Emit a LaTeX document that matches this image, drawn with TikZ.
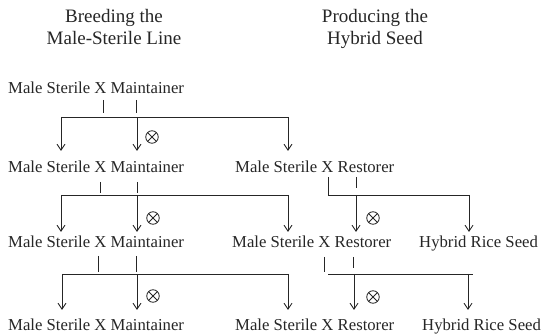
\documentclass[tikz,border=0pt]{standalone}
\usepackage{fontspec}
\setmainfont{Liberation Serif}
\usetikzlibrary{arrows.meta}
\begin{document}
\begin{tikzpicture}[x=1pt,y=-1pt,
  lbl/.style={anchor=base west,inner sep=0pt,font=\fontsize{16.7}{20}\selectfont,text=black!85},
  ttl/.style={anchor=base,inner sep=0pt,font=\fontsize{19}{22}\selectfont,text=black!85},
  ln/.style={line width=0.9pt,draw=black!85},
  arr/.style={line width=0.9pt,draw=black!85,-{Straight Barb[length=6pt,width=8pt]}},
  selfx/.style={circle,draw=black!85,line width=0.8pt,minimum size=12.5pt,inner sep=0pt,
    path picture={\draw[line width=0.8pt,black!85] (path picture bounding box.north west)--(path picture bounding box.south east)
      (path picture bounding box.north east)--(path picture bounding box.south west);}}]
\path[use as bounding box] (0,0) rectangle (542,336);
% titles
\node[ttl] (t1) at (114,23) {Breeding the};
\node[ttl] (t2) at (114,45) {Male-Sterile Line};
\node[ttl] (t3) at (375,23) {Producing the};
\node[ttl] (t4) at (375,45) {Hybrid Seed};
% row 1
\node[lbl] (m1) at (8,94) {Male Sterile X Maintainer};
% row 2
\node[lbl] (m2) at (8,173) {Male Sterile X Maintainer};
\node[lbl] (r2) at (235,173) {Male Sterile X Restorer};
% row 3
\node[lbl] (m3) at (8,248) {Male Sterile X Maintainer};
\node[lbl] (r3) at (232,248) {Male Sterile X Restorer};
\node[lbl] (h3) at (419,248) {Hybrid Rice Seed};
% row 4
\node[lbl] (m4) at (8,331) {Male Sterile X Maintainer};
\node[lbl] (r4) at (235,331) {Male Sterile X Restorer};
\node[lbl] (h4) at (422,331) {Hybrid Rice Seed};

% cross 1 (row1 -> row2)
\coordinate (a1) at (103,100); \coordinate (a1e) at (103,113);
\coordinate (b1) at (136,100); \coordinate (b1e) at (136,113);
\coordinate (l1) at (61,117); \coordinate (rr1) at (289,117);
\draw[ln] (a1) -- (a1e); \draw[ln] (b1) -- (b1e);
\draw[ln] (l1) -- (rr1);
\coordinate (p1) at (61,151); \coordinate (q1) at (137,151); \coordinate (s1) at (288,151);
\draw[arr] (l1) -- (p1);
\draw[arr] (137,117) -- (q1);
\draw[arr] (288,117) -- (s1);
\node[selfx] (x1) at (152,137) {};

% cross 2 left (row2 -> row3)
\coordinate (a2) at (100,182); \coordinate (a2e) at (100,193);
\coordinate (b2) at (137,182); \coordinate (b2e) at (137,193);
\draw[ln] (a2) -- (a2e); \draw[ln] (b2) -- (b2e);
\coordinate (l2) at (61,195); \coordinate (rr2) at (289,195);
\draw[ln] (l2) -- (rr2);
\coordinate (p2) at (61,232); \coordinate (q2) at (137,232); \coordinate (s2) at (288,232);
\draw[arr] (l2) -- (p2);
\draw[arr] (137,195) -- (q2);
\draw[arr] (288,195) -- (s2);
\node[selfx] (x2) at (153,218) {};
% cross 2 right
\coordinate (c2) at (328,177); \coordinate (c2e) at (328,195);
\coordinate (d2) at (356,177); \coordinate (d2e) at (356,188);
\draw[ln] (c2) -- (c2e); \draw[ln] (d2) -- (d2e);
\coordinate (rl2) at (328,195); \coordinate (rr2b) at (469,195);
\draw[ln] (rl2) -- (rr2b);
\coordinate (u2) at (356,232); \coordinate (v2) at (469,232);
\draw[arr] (356,195) -- (u2);
\draw[arr] (rr2b) -- (v2);
\node[selfx] (y2) at (373,218) {};

% cross 3 left (row3 -> row4)
\coordinate (a3) at (98,256); \coordinate (a3e) at (98,272);
\coordinate (b3) at (136,256); \coordinate (b3e) at (136,272);
\draw[ln] (a3) -- (a3e); \draw[ln] (b3) -- (b3e);
\coordinate (l3) at (62,274); \coordinate (rr3) at (288,274);
\draw[ln] (l3) -- (rr3);
\coordinate (p3) at (62,310); \coordinate (q3) at (137,310); \coordinate (s3) at (288,310);
\draw[arr] (l3) -- (p3);
\draw[arr] (137,274) -- (q3);
\draw[arr] (rr3) -- (s3);
\node[selfx] (x3) at (153,296) {};
% cross 3 right
\coordinate (c3) at (324,257); \coordinate (c3e) at (324,272);
\coordinate (d3) at (353,257); \coordinate (d3e) at (353,268);
\draw[ln] (c3) -- (c3e); \draw[ln] (d3) -- (d3e);
\coordinate (rl3) at (328,274); \coordinate (rr3b) at (473,274);
\draw[ln] (rl3) -- (rr3b);
\coordinate (u3) at (354,310); \coordinate (v3) at (468,310);
\draw[arr] (354,274) -- (u3);
\draw[arr] (468,274) -- (v3);
\node[selfx] (y3) at (373,297) {};
\end{tikzpicture}
\end{document}
